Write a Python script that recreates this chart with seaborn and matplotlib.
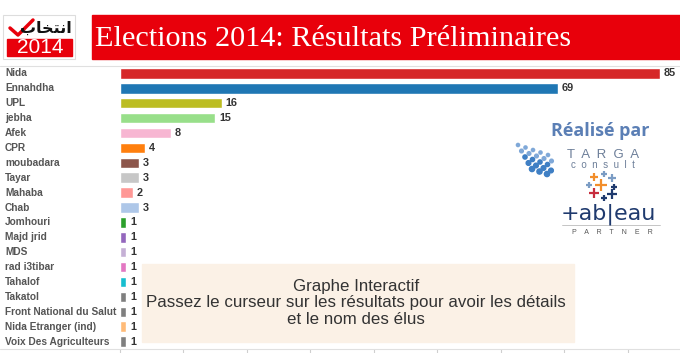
import matplotlib
matplotlib.use('Agg')
import matplotlib.pyplot as plt
import seaborn as sns
import pandas as pd
from matplotlib.patches import Rectangle, Ellipse
from matplotlib.lines import Line2D

# data
parties = ['Nida', 'Ennahdha', 'UPL', 'jebha', 'Afek', 'CPR', 'moubadara', 'Tayar',
           'Mahaba', 'Chab', 'Jomhouri', 'Majd jrid', 'MDS', 'rad i3tibar', 'Tahalof',
           'Takatol', 'Front National du Salut', 'Nida Etranger (ind)', 'Voix Des Agriculteurs']
seats = [85, 69, 16, 15, 8, 4, 3, 3, 2, 3, 1, 1, 1, 1, 1, 1, 1, 1, 1]
colors = ['#d62728', '#1f77b4', '#bcbd22', '#98df8a', '#f7b6d2', '#ff7f0e', '#8c564b',
          '#c7c7c7', '#ff9896', '#aec7e8', '#2ca02c', '#9467bd', '#c5b0d5', '#e377c2',
          '#17becf', '#7f7f7f', '#7f7f7f', '#ffbb78', '#7f7f7f']

df = pd.DataFrame({'party': parties, 'seats': seats})

sns.set_style('white')
plt.rcParams['font.family'] = ['Liberation Sans', 'DejaVu Sans']

W, H = 680, 353
fig = plt.figure(figsize=(6.8, 3.53), dpi=100)
ax = fig.add_axes([120 / W, 4 / H, 560 / W, 283 / H])

sns.barplot(data=df, x='seats', y='party', hue='party', palette=colors, legend=False,
            orient='h', width=0.7, saturation=1, ax=ax)

ax.set_xlim(0, 88.2)
ax.set_ylim(len(parties) - 0.5, -0.5)
ax.set_xlabel('')
ax.set_ylabel('')
ax.set_xticks(range(0, 90, 10))
ax.set_xticklabels([])
ax.set_yticks([])
ax.tick_params(axis='x', direction='out', length=4, color='#cfcfcf', width=0.8, bottom=True)
for s in ax.spines.values():
    s.set_visible(False)

# party labels on the left
for i, p in enumerate(parties):
    ax.text(-115 / 6.35, i, p, ha='left', va='center', fontsize=7.3,
            fontweight='bold', color='#555555', clip_on=False)

# value labels
for i, v in enumerate(seats):
    ax.text(v + 0.6, i, str(v), ha='left', va='center', fontsize=7.8,
            fontweight='bold', color='#333333')


def fx(x):
    return x / W


def fy(y):
    return 1 - y / H


# thin frame lines across the whole width
fig.add_artist(Line2D([0, 1], [fy(66)] * 2, color='#e0e0e0', lw=0.8))
fig.add_artist(Line2D([0, 1], [fy(349)] * 2, color='#e0e0e0', lw=0.8))

# red header banner
fig.add_artist(Rectangle((fx(92), fy(59)), fx(588), 44 / H,
                         color='#e8000b', transform=fig.transFigure, zorder=1))
fig.text(fx(95), fy(39), 'Elections 2014: Résultats Préliminaires',
         fontsize=21.8, color='white', family=['Liberation Serif', 'DejaVu Serif'],
         va='center', ha='left', zorder=2)

# logo
fig.add_artist(Rectangle((fx(3), fy(59)), fx(72), 44 / H, facecolor='white',
                         edgecolor='#dddddd', lw=0.8, transform=fig.transFigure))
fig.add_artist(Rectangle((fx(7), fy(56)), fx(65), 17 / H, color='#e8000b',
                         transform=fig.transFigure))
fig.text(fx(40), fy(47.5), '2014', fontsize=15, color='white', ha='center', va='center')
fig.text(fx(72), fy(28), 'ﺏﺎﺨﺘﻧﺍ', fontsize=11.5, fontweight='bold',
         color='#111111', ha='right', va='center', family=['DejaVu Sans'])
fig.add_artist(Line2D([fx(10), fx(18), fx(33)], [fy(28), fy(35), fy(20)],
                      color='#e8000b', lw=2.5, transform=fig.transFigure))

# "Realise par" block
fig.text(fx(600), fy(131), 'Réalisé par', fontsize=13, fontweight='bold',
         color='#5b7fb5', ha='center', va='center', family=['Open Sans', 'DejaVu Sans'])
fig.text(fx(603), fy(155), 'T  A  R  G  A', fontsize=9.5, color='#6d7f99',
         ha='center', va='center')
fig.text(fx(603), fy(165), 'c  o  n  s  u  l  t', fontsize=7, color='#6d7f99',
         ha='center', va='center')
for r in range(5):
    for c in range(5 - r // 2):
        x0 = 518 + c * 7.5 + r * 3.5
        y0 = 145 + r * 6 + c * 2.5
        d = 3.2 + 0.5 * r
        fig.add_artist(Ellipse((fx(x0), fy(y0)), d / W, d / H,
                               color='#3f7fc4' if r > 1 else '#7fa8d8',
                               transform=fig.transFigure))
plus = [(601, 185, 9, '#f28e2b'), (594, 177, 6, '#f28e2b'), (604, 174, 4, '#7b9cc4'),
        (612, 178, 6, '#7b9cc4'), (589, 185, 4, '#7b9cc4'), (614, 187, 4, '#1f3a6e'),
        (594, 193, 7, '#c72e3e'), (604, 198, 4, '#1f3a6e'), (612, 194, 7, '#1f3a6e')]
for x0, y0, s, c in plus:
    fig.add_artist(Line2D([fx(x0)], [fy(y0)], marker='+', ms=s, mew=1.6, color=c,
                          transform=fig.transFigure))
fig.text(fx(608), fy(214), '+ab|eau', fontsize=16, color='#1f3a6e',
         ha='center', va='center', family=['DejaVu Sans'])
fig.add_artist(Line2D([fx(562), fx(660)], [fy(225)] * 2, color='#bbbbbb', lw=0.6))
fig.text(fx(612), fy(233), 'P    A    R    T    N    E    R', fontsize=5, color='#555555',
         ha='center', va='center')

# interactive note box
fig.add_artist(Rectangle((fx(142), fy(342)), fx(432), 78 / H,
                         color='#fbf1e6', transform=fig.transFigure, zorder=3))
fig.text(fx(356), fy(303),
         'Graphe Interactif\nPassez le curseur sur les résultats pour avoir les détails\net le nom des élus',
         fontsize=12.2, color='#333333', ha='center', va='center', linespacing=1.15, zorder=4)

fig.savefig('out.png', dpi=100)
